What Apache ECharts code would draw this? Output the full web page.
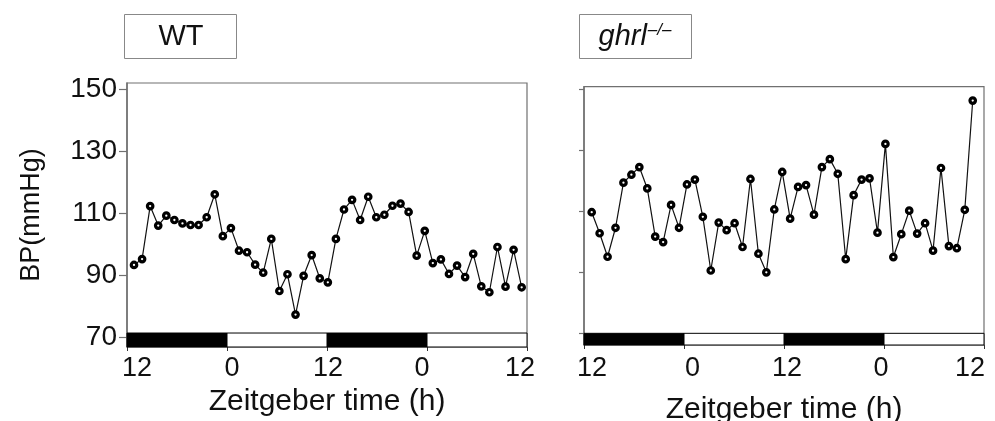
<!DOCTYPE html>
<html>
<head>
<meta charset="utf-8">
<script src="https://cdn.jsdelivr.net/npm/echarts@6/dist/echarts.min.js"></script>
<style>
  html, body { margin: 0; padding: 0; background: #fff; }
  #chart { width: 995px; height: 421px; }
</style>
</head>
<body>
<div id="chart"></div>
<script>
// ---- data ----
const panelTitles = ['WT', 'ghrl'];
const hourLabels = ['12', '0', '12', '0', '12'];
const hourTicks = [0, 12, 24, 36, 48];
const yTickValues = [70, 90, 110, 130, 150];
const darkPhases = [[0, 12], [24, 36]];
const lightPhases = [[12, 24], [36, 48]];

const wtBP = [93.4, 95.3, 112.4, 106.1, 109.3, 107.9, 106.8, 106.3, 106.3, 108.8,
  116.2, 102.7, 105.3, 98.0, 97.5, 93.5, 90.9, 101.8, 85.0, 90.4,
  77.4, 89.9, 96.6, 89.1, 87.8, 101.8, 111.3, 114.4, 107.9, 115.4,
  108.8, 109.6, 112.5, 113.2, 110.5, 96.4, 104.4, 94.0, 95.2, 90.5,
  93.2, 89.5, 97.0, 86.5, 84.6, 99.2, 86.4, 98.3, 86.2];

const ghrlBP = [109.6, 102.7, 95.0, 104.5, 119.3, 121.9, 124.4, 117.4, 101.6, 99.8,
  112.0, 104.5, 118.7, 120.3, 108.1, 90.5, 106.2, 103.7, 106.0, 98.2,
  120.5, 96.0, 89.9, 110.5, 122.8, 107.5, 117.9, 118.5, 108.8, 124.4,
  127.0, 122.2, 94.2, 115.2, 120.3, 120.7, 102.9, 132.0, 94.9, 102.4,
  110.1, 102.6, 106.0, 97.0, 124.1, 98.5, 97.8, 110.4, 146.2];

// ---- styling / layout ----
const FONT = 'Liberation Sans, Arial, Helvetica, sans-serif';
const frameColor = '#707070';

const panels = [
  { left: 127, top: 83, width: 400, height: 264, yMin: 66.94, yMax: 152.1,
    xMin: -0.867, xMax: 48.66, barTop: 71.45, shifts: [10, 5, 1, -5, -7],
    values: wtBP, showYLabels: true, nameGap: 38, labelMargin: 8 },
  { left: 584, top: 86.7, width: 400, height: 258.3, yMin: 66.07, yMax: 150.75,
    xMin: -0.97, xMax: 49.42, barTop: 69.9, shifts: [8, 8.5, 3, -3, -14],
    values: ghrlBP, showYLabels: false, nameGap: 50, labelMargin: 10 }
];

const grids = [], xAxes = [], yAxes = [], series = [];

panels.forEach((p, k) => {
  grids.push({
    left: p.left, top: p.top, width: p.width, height: p.height,
    show: true, borderColor: frameColor, borderWidth: 1.2,
    backgroundColor: 'transparent', containLabel: false, outerBoundsMode: 'none'
  });

  // hidden axis for sample index
  xAxes.push({
    type: 'value', gridIndex: k, position: 'top', min: p.xMin, max: p.xMax, show: false,
    axisLine: { onZero: false }
  });

  const rich = {};
  p.shifts.forEach((d, i) => {
    rich['p' + i] = {
      fontSize: 27, fontFamily: FONT, color: '#111',
      padding: d >= 0 ? [0, 0, 0, 2 * d] : [0, -2 * d, 0, 0]
    };
  });

  // visible Zeitgeber time axis
  xAxes.push({
    type: 'value', gridIndex: k, position: 'bottom', min: 0, max: 48, interval: 12,
    axisLine: { show: false, onZero: false },
    axisTick: { show: true, length: 4, lineStyle: { color: '#333', width: 1 } },
    splitLine: { show: false },
    axisLabel: {
      show: true, margin: p.labelMargin, showMinLabel: true, showMaxLabel: true,
      hideOverlap: false,
      formatter: function (v) {
        const i = hourTicks.indexOf(v);
        return i < 0 ? '' : '{p' + i + '|' + hourLabels[i] + '}';
      },
      rich: rich
    },
    name: 'Zeitgeber time (h)', nameLocation: 'middle', nameGap: p.nameGap,
    nameTextStyle: { fontSize: 30, fontFamily: FONT, color: '#111' }
  });

  yAxes.push({
    type: 'value', gridIndex: k, min: p.yMin, max: p.yMax, position: 'left',
    axisLine: { show: true, onZero: false, lineStyle: { color: frameColor, width: 1.5 } },
    axisTick: { show: true, length: p.showYLabels ? 8 : 5, customValues: yTickValues,
      lineStyle: { color: frameColor, width: 1.2 } },
    axisLabel: { show: p.showYLabels, customValues: yTickValues, fontSize: 28,
      fontFamily: FONT, color: '#111', margin: 10 },
    splitLine: { show: false },
    name: p.showYLabels ? 'BP(mmHg)' : '', nameLocation: 'middle', nameGap: 82,
    nameTextStyle: { fontSize: 27, fontFamily: FONT, color: '#111' }
  });

  series.push({
    type: 'line', xAxisIndex: 2 * k, yAxisIndex: k,
    data: p.values.map((v, i) => [i, v]),
    symbol: 'circle', symbolSize: 5.5,
    itemStyle: { color: '#ffffff', borderColor: '#000', borderWidth: 3.2 },
    lineStyle: { color: '#111', width: 1.2 },
    z: 5, animation: false
  });

  const areas = [];
  darkPhases.forEach(ph => areas.push([
    { xAxis: ph[0], yAxis: p.yMin, itemStyle: { color: '#000' } },
    { xAxis: ph[1], yAxis: p.barTop }
  ]));
  lightPhases.forEach(ph => areas.push([
    { xAxis: ph[0], yAxis: p.yMin, itemStyle: { color: '#fff' } },
    { xAxis: ph[1], yAxis: p.barTop }
  ]));
  series.push({
    type: 'line', xAxisIndex: 2 * k + 1, yAxisIndex: k, data: [],
    silent: true, animation: false,
    markArea: {
      silent: true,
      itemStyle: { borderColor: '#000', borderWidth: 1 },
      data: areas
    },
    z: 4
  });
});

const chart = echarts.init(document.getElementById('chart'), null, { renderer: 'canvas' });
chart.setOption({
  animation: false,
  backgroundColor: '#fff',
  grid: grids,
  xAxis: xAxes,
  yAxis: yAxes,
  series: series,
  graphic: [
    { type: 'rect', left: 124, top: 14, shape: { width: 112, height: 44 },
      style: { fill: '#fff', stroke: '#888', lineWidth: 1 } },
    { type: 'text', x: 181, y: 37,
      style: { text: panelTitles[0], fontSize: 29, fontFamily: FONT, fill: '#111',
        align: 'center', verticalAlign: 'middle' } },
    { type: 'rect', left: 579, top: 14, shape: { width: 112, height: 44 },
      style: { fill: '#fff', stroke: '#888', lineWidth: 1 } },
    { type: 'text', x: 635, y: 37,
      style: { text: '{a|' + panelTitles[1] + '}{b|\u2013/\u2013}', align: 'center',
        verticalAlign: 'middle',
        rich: {
          a: { fontSize: 29, fontStyle: 'italic', fontFamily: FONT, fill: '#111', lineHeight: 30 },
          b: { fontSize: 17, fontStyle: 'italic', fontFamily: FONT, fill: '#111',
            verticalAlign: 'top', lineHeight: 18, padding: [0, 0, 0, 1] }
        } } }
  ]
});
</script>
</body>
</html>
